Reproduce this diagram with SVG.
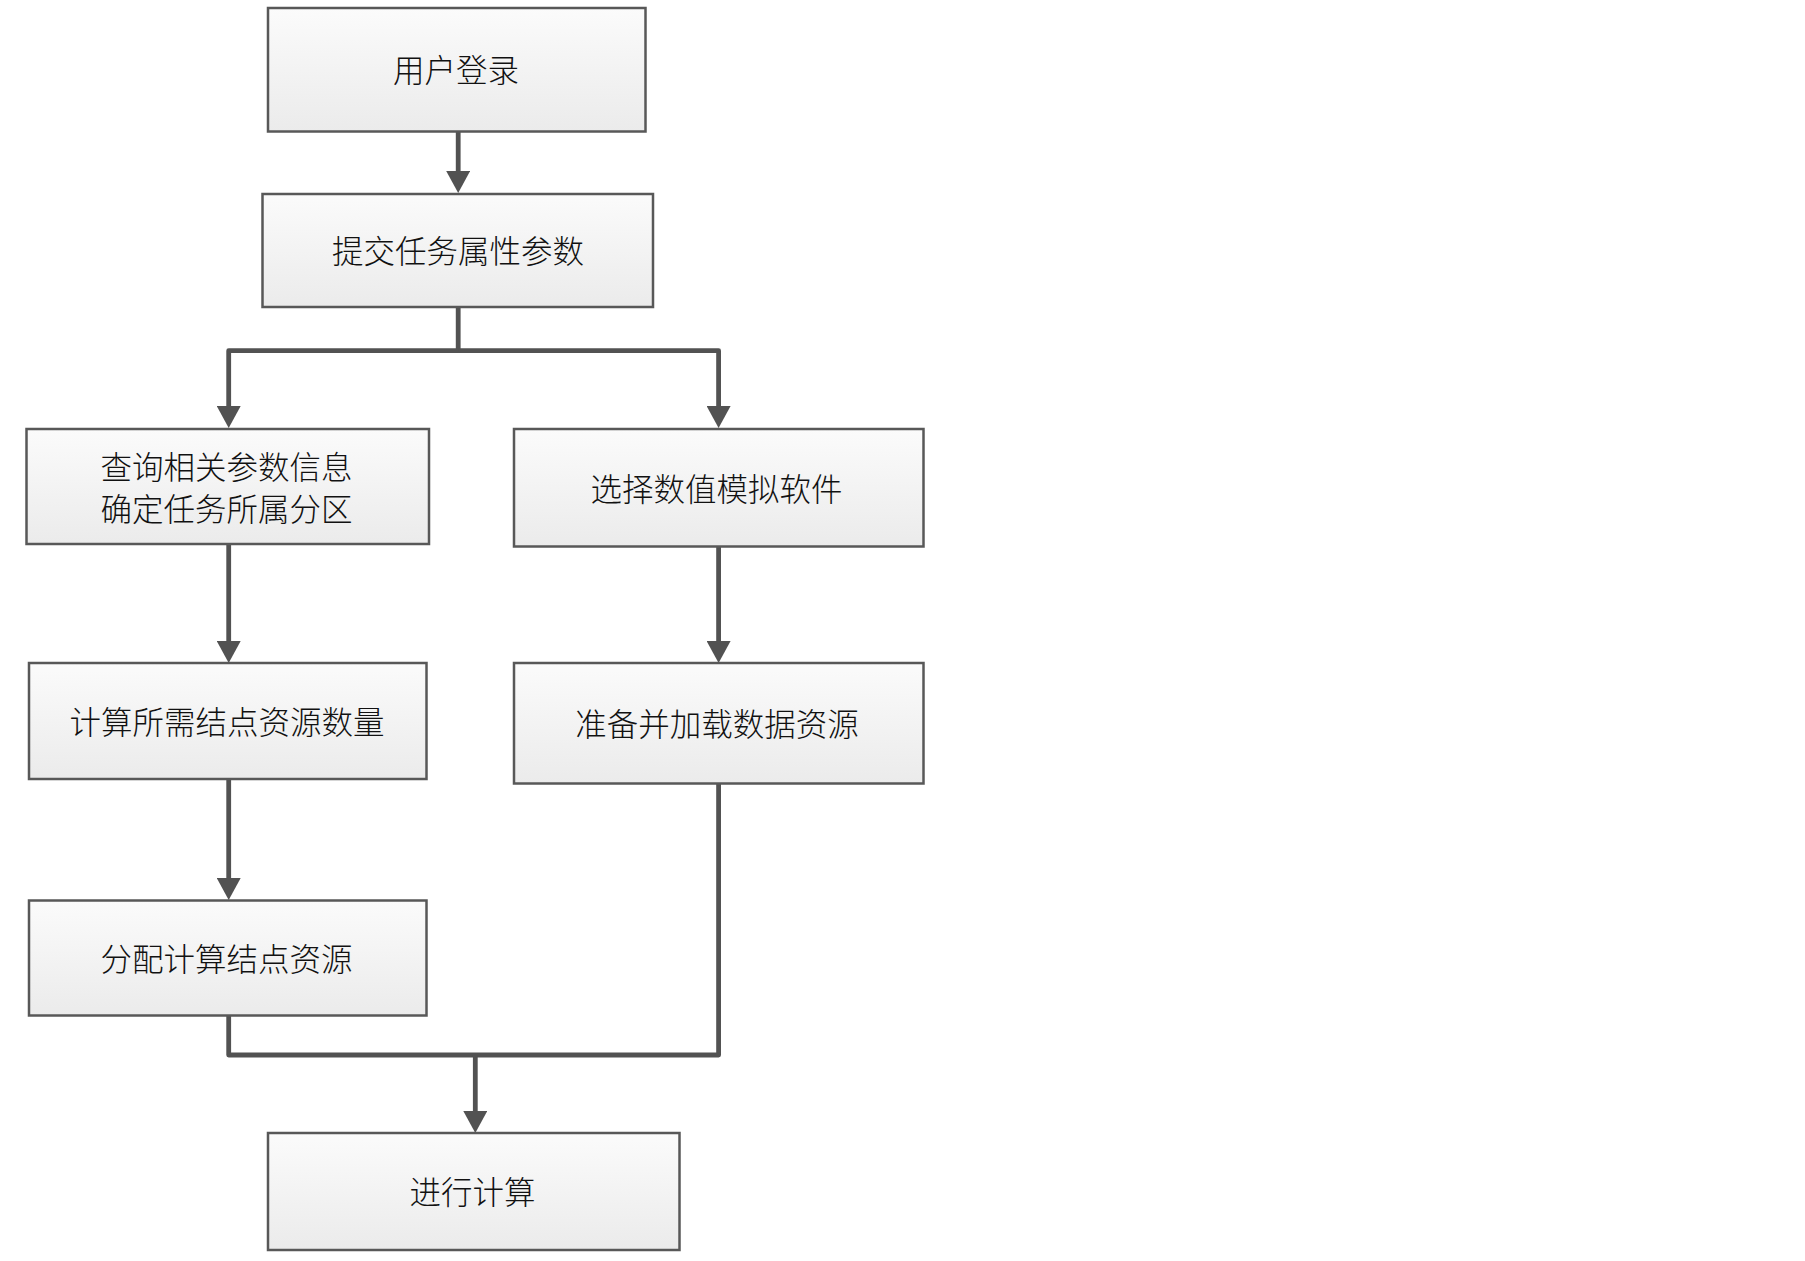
<svg xmlns="http://www.w3.org/2000/svg" width="1805" height="1261" viewBox="0 0 1805 1261">
<style>
.box{stroke:#585858;stroke-width:2.5;fill:url(#g)}
.lbl{font-family:"Noto Sans CJK SC","Liberation Sans",sans-serif;font-size:31.5px;font-weight:300;fill:#111;text-anchor:middle;dominant-baseline:central}
.con{fill:none;stroke:#525252;stroke-width:4.8;stroke-linejoin:round}
.arr{marker-end:url(#ah)}
</style>
<defs>
<linearGradient id="g" x1="0" y1="0" x2="0" y2="1">
<stop offset="0" stop-color="#fbfbfb"/>
<stop offset="1" stop-color="#ebebeb"/>
</linearGradient>
<marker id="ah" markerUnits="userSpaceOnUse" markerWidth="22" markerHeight="24" viewBox="0 0 22 24" refX="7" refY="12" orient="auto">
<path d="M0,0 L22,12 L0,24 z" fill="#525252"/>
</marker>
</defs>
<rect width="1805" height="1261" fill="#ffffff"/>
<g id="connectors">
<path class="con arr" d="M458.2,131.5 V178"/>
<path class="con arr" d="M458.2,307 V350.7 H228.7 V413"/>
<path class="con arr" d="M458.2,350.7 H718.6 V413"/>
<path class="con arr" d="M228.7,544 V648"/>
<path class="con arr" d="M718.6,546.5 V648"/>
<path class="con arr" d="M228.7,779 V885"/>
<path class="con" d="M228.7,1015.5 V1055 H718.6 V783.5"/>
<path class="con arr" d="M475.3,1055 V1118"/>
</g>
<g id="n1"><rect class="box" x="268" y="8" width="377.5" height="123.5"/><text class="lbl" x="456" y="67.5">用户登录</text></g>
<g id="n2"><rect class="box" x="262.5" y="194" width="390.5" height="113"/><text class="lbl" x="458" y="249">提交任务属性参数</text></g>
<g id="n3"><rect class="box" x="26.5" y="429" width="402.5" height="115"/><text class="lbl" x="226.5" y="465">查询相关参数信息</text><text class="lbl" x="226.5" y="507">确定任务所属分区</text></g>
<g id="n4"><rect class="box" x="514" y="429" width="409.5" height="117.5"/><text class="lbl" x="716.5" y="487">选择数值模拟软件</text></g>
<g id="n5"><rect class="box" x="29" y="663" width="397.5" height="116"/><text class="lbl" x="227" y="720">计算所需结点资源数量</text></g>
<g id="n6"><rect class="box" x="514" y="663" width="409.5" height="120.5"/><text class="lbl" x="717" y="722">准备并加载数据资源</text></g>
<g id="n7"><rect class="box" x="29" y="900.5" width="397.5" height="115"/><text class="lbl" x="226.5" y="957">分配计算结点资源</text></g>
<g id="n8"><rect class="box" x="268" y="1133" width="411.5" height="117"/><text class="lbl" x="472.5" y="1190">进行计算</text></g>
</svg>
